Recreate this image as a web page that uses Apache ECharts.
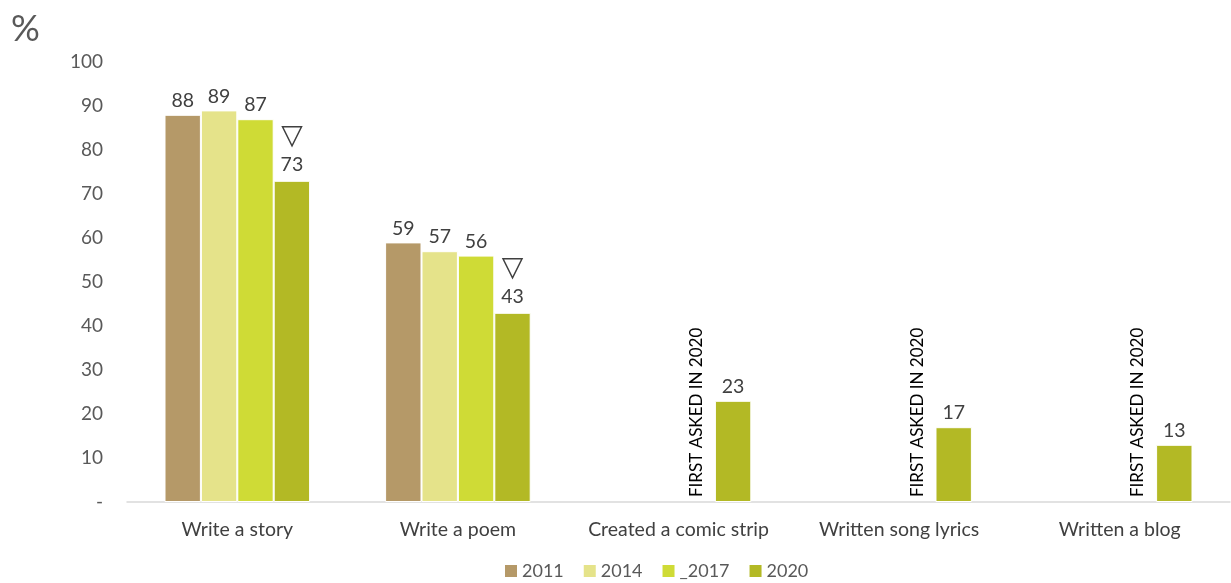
<!DOCTYPE html>
<html><head><meta charset="utf-8">
<script src="https://cdn.jsdelivr.net/npm/echarts@6/dist/echarts.min.js"></script>
<style>html,body{margin:0;padding:0;background:#fff}#c{width:1231px;height:583px}</style>
</head><body><div id="c"></div>
<script>
const categories = ['Write a story', 'Write a poem', 'Created a comic strip', 'Written song lyrics', 'Written a blog'];
const seriesNames = ['2011', '2014', '_2017', '2020'];
const v2011 = [88, 59, null, null, null];
const v2014 = [89, 57, null, null, null];
const v2017 = [87, 56, null, null, null];
const v2020 = [73, 43, 23, 17, 13];
const sigDown = [true, true, false, false, false];
const firstAsked = [false, false, true, true, true];
const yTicks = [0, 10, 20, 30, 40, 50, 60, 70, 80, 90, 100];
const colors = ['#B59968', '#E5E38A', '#CFDB36', '#B3B925'];

const FONT = 'Lato, "Open Sans", sans-serif';
const lbl = {show: true, position: 'top', color: '#404040', fontSize: 19.5, fontFamily: FONT, distance: 4};

function mk(name, vals, color, extra) {
  return {
    name, type: 'bar', data: vals.map((v, i) => extra ? extra(v, i) : v),
    itemStyle: {color, borderColor: '#fff', borderWidth: 1},
    label: lbl, barGap: '0%', barCategoryGap: '34%'
  };
}

const s2017 = mk('_2017', v2017, colors[2], (v, i) => {
  if (firstAsked[i]) {
    return {value: 0, itemStyle: {borderWidth: 0},
      label: {show: true, formatter: 'FIRST ASKED IN 2020', rotate: 90, position: 'insideBottom',
        align: 'left', verticalAlign: 'middle', distance: 5, color: '#000', fontSize: 17, fontFamily: FONT}};
  }
  return v;
});
const s2020 = mk('2020', v2020, colors[3], (v, i) => {
  if (sigDown[i]) {
    return {value: v, label: {show: true, formatter: '{t|▽}\n{n|' + v + '}',
      rich: {t: {fontSize: 28, color: '#404040', fontFamily: 'DejaVu Sans', lineHeight: 32}, n: {fontSize: 19.5, color: '#404040', fontFamily: FONT, lineHeight: 24}}}};
  }
  return v;
});

const chart = echarts.init(document.getElementById('c'));
chart.setOption({
  animation: false,
  textStyle: {fontFamily: FONT},
  graphic: [{type: 'text', left: 11, top: 11, style: {text: '%', fontSize: 36, fill: '#595959', fontFamily: FONT}}],
  legend: {top: 557, left: 498, itemWidth: 14, itemHeight: 14, itemGap: 18, icon: 'rect',
    textStyle: {fontSize: 18, color: '#595959', fontFamily: FONT, padding: [0, 0, 0, -1]},
    data: seriesNames},
  grid: {left: 127, right: 1, top: 62, bottom: 81},
  xAxis: {type: 'category', data: categories,
    axisLine: {lineStyle: {color: '#D9D9D9', width: 1.5}}, axisTick: {show: false},
    axisLabel: {interval: 0, fontSize: 19.5, color: '#404040', margin: 18, fontFamily: FONT}},
  yAxis: {type: 'value', min: 0, max: 100, interval: 10, splitLine: {show: false},
    axisLine: {show: false}, axisTick: {show: false},
    axisLabel: {fontSize: 19, color: '#595959', margin: 24, fontFamily: FONT,
      formatter: v => yTicks.includes(v) ? (v === 0 ? '-' : String(v)) : ''}},
  series: [mk('2011', v2011, colors[0]), mk('2014', v2014, colors[1]), s2017, s2020]
});
</script></body></html>
